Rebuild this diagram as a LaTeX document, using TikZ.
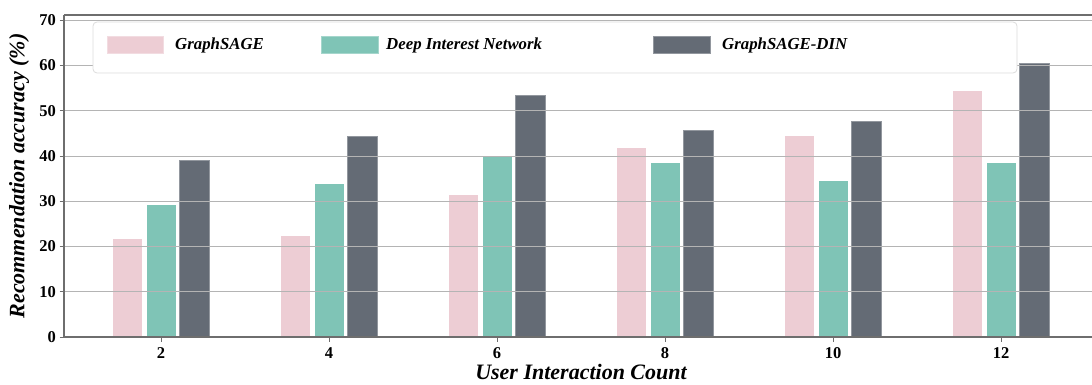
\documentclass[tikz,border=0pt]{standalone}
\usepackage{fontspec}
\setmainfont{Liberation Serif}
\definecolor{cpink}{HTML}{EDCDD4}
\definecolor{cteal}{HTML}{7FC4B6}
\definecolor{cdark}{HTML}{646B75}
\definecolor{cgrid}{HTML}{B4B4B4}
\definecolor{cspine}{HTML}{6E6E6E}
\definecolor{clegend}{HTML}{DCDCDC}
\begin{document}
\begin{tikzpicture}[x=1pt,y=-1pt,
  bar/.style={draw=white,line width=0.8pt},
  gridline/.style={draw=cgrid,line width=0.9pt},
  spine/.style={draw=cspine,line width=1.3pt},
  tick/.style={draw=cspine,line width=1pt},
  ticklabel/.style={font=\bfseries\fontsize{16.5}{16.5}\selectfont,inner sep=0pt},
  legtext/.style={font=\bfseries\itshape\fontsize{16.8}{16.8}\selectfont,anchor=west,inner sep=0pt},
  axlabel/.style={font=\bfseries\itshape\fontsize{22}{22}\selectfont,inner sep=0pt},
  legpatch/.style={line width=0.6pt}]
\useasboundingbox (0,0) rectangle (1092,385);
% bars
\foreach \g/\a/\b/\c in {2/21.7/29.3/39.1, 4/22.4/34.0/44.3, 6/31.6/39.9/53.4, 8/41.8/38.6/45.7, 10/44.6/34.5/47.6, 12/54.4/38.5/60.5}{
  \pgfmathsetmacro\cx{161+(\g-2)*84}
  \filldraw[bar,fill=cpink] ({\cx-48.5},337) rectangle ({\cx-18.5},{337-\a*4.525});
  \filldraw[bar,fill=cteal] ({\cx-15},337) rectangle ({\cx+15},{337-\b*4.525});
  \filldraw[bar,fill=cdark,draw=cdark!70!white] ({\cx+18.5},337) rectangle ({\cx+48.5},{337-\c*4.525});
}
% grid
\foreach \v in {10,20,...,70}{
  \draw[gridline] (64,{337-\v*4.525}) -- (1092,{337-\v*4.525});
}
% legend
\draw[rounded corners=4pt,draw=clegend,fill=white,line width=0.8pt] (93,22) rectangle (1017,73);
\filldraw[legpatch,fill=cpink,draw=cpink!70!white] (107,36) rectangle (163,53);
\filldraw[legpatch,fill=cteal,draw=cteal!70!white] (321,36) rectangle (378,53);
\filldraw[legpatch,fill=cdark,draw=cdark!70!white] (653,36) rectangle (710,53);
\node[legtext] (lg1) at (175,45) {GraphSAGE};
\node[legtext] (lg2) at (386,45) {Deep Interest Network};
\node[legtext] (lg3) at (722,45) {GraphSAGE-DIN};
% spines
\draw[spine] (64,15) -- (1092,15);
\draw[spine] (64,15) -- (64,337) -- (1092,337);
% y ticks
\foreach \v in {0,10,...,70}{
  \draw[tick] (59.5,{337-\v*4.525}) -- (64,{337-\v*4.525});
  \node[ticklabel,anchor=east] (yt\v) at (56,{337-\v*4.525}) {\v};
}
% x ticks
\foreach \g in {2,4,...,12}{
  \pgfmathsetmacro\cx{161+(\g-2)*84}
  \draw[tick] (\cx,337) -- (\cx,341.5);
  \node[ticklabel,anchor=north] (xt\g) at (\cx,347.5) {\g};
}
% axis labels
\node[axlabel] (xlab) at (581,372) {User Interaction Count};
\node[axlabel,rotate=90] (ylab) at (19,176) {Recommendation accuracy (\%)};
\end{tikzpicture}
\end{document}
